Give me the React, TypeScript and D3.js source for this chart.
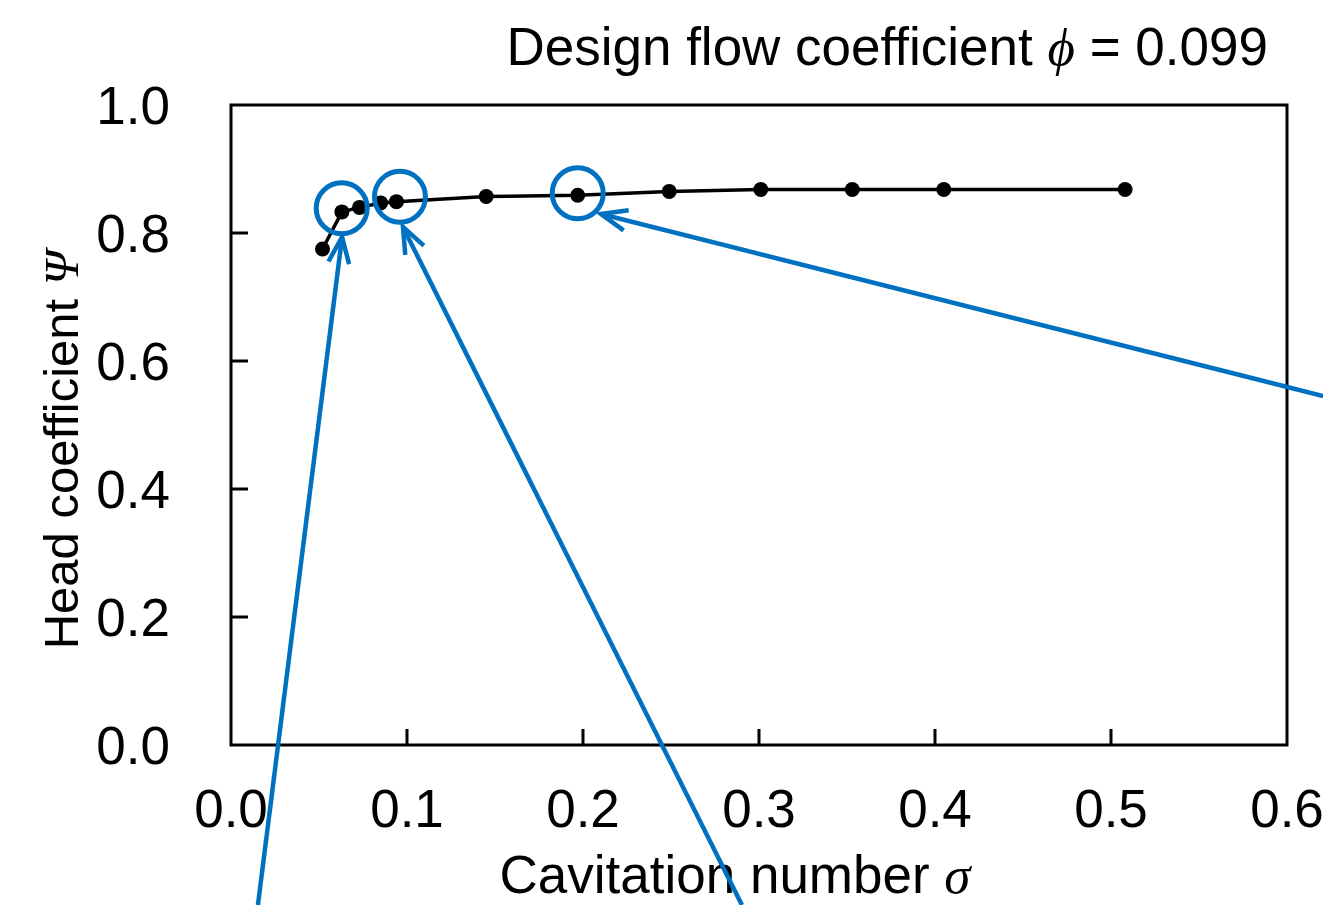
import React from "react";
import * as d3 from "d3";

const sigma = [0.052, 0.063, 0.073, 0.085, 0.094, 0.145, 0.197, 0.249, 0.301, 0.353, 0.405, 0.508];
const psi = [0.775, 0.833, 0.840, 0.847, 0.849, 0.857, 0.859, 0.865, 0.868, 0.868, 0.868, 0.868];
const xTicks = [0, 0.1, 0.2, 0.3, 0.4, 0.5, 0.6];
const yTicks = [0, 0.2, 0.4, 0.6, 0.8, 1.0];

// annotation circles (data units) and arrows: tail -> tip (data units)
const circleCenters = [
  { x: 0.0629, y: 0.8386 },
  { x: 0.096, y: 0.8567 },
  { x: 0.197, y: 0.862 },
];
const arrows = [
  { x0: 0.0153, y0: -0.25, x1: 0.0631, y1: 0.7938 },
  { x0: 0.2903, y0: -0.25, x1: 0.0977, y1: 0.8094 },
  { x0: 0.6205, y0: 0.5453, x1: 0.2102, y1: 0.8297 },
];

const W = 1323;
const H = 905;
const M = { left: 231, right: 1287, top: 105, bottom: 745 };
const BLUE = "#0070C0";
const SANS = "'Liberation Sans', Arial, sans-serif";
const SERIF = "'Liberation Serif', 'Times New Roman', serif";

export default function App() {
  const x = d3.scaleLinear().domain([0, 0.6]).range([M.left, M.right]);
  const y = d3.scaleLinear().domain([0, 1]).range([M.bottom, M.top]);
  const pts = sigma.map((s, i) => [s, psi[i]] as [number, number]);
  const line = d3.line<[number, number]>().x((d) => x(d[0])).y((d) => y(d[1]));
  const fs = 53;
  const tickLen = 16;

  const arrowHead = (a: typeof arrows[number]) => {
    const tx = x(a.x1), ty = y(a.y1);
    const sx = x(a.x0), sy = y(a.y0);
    const ang = Math.atan2(sy - ty, sx - tx);
    const L = 28, spread = 0.38;
    const p1 = [tx + L * Math.cos(ang + spread), ty + L * Math.sin(ang + spread)];
    const p2 = [tx + L * Math.cos(ang - spread), ty + L * Math.sin(ang - spread)];
    return `M${p1[0]},${p1[1]}L${tx},${ty}L${p2[0]},${p2[1]}`;
  };

  return (
    <svg
      width={W}
      height={H}
      style={{ position: "absolute", left: 0, top: 0, background: "#fff" }}
    >
      {/* title */}
      <text x={1268} y={65} textAnchor="end" fontFamily={SANS} fontSize={fs} fill="#000">
        Design flow coefficient{" "}
        <tspan fontFamily={SERIF} fontStyle="italic">ϕ</tspan> = 0.099
      </text>

      {/* frame */}
      <rect
        x={M.left}
        y={M.top}
        width={M.right - M.left}
        height={M.bottom - M.top}
        fill="none"
        stroke="#000"
        strokeWidth={3}
      />
      {/* ticks */}
      {xTicks.slice(1, -1).map((t) => (
        <line key={"xt" + t} x1={x(t)} x2={x(t)} y1={M.bottom} y2={M.bottom - tickLen} stroke="#000" strokeWidth={3} />
      ))}
      {yTicks.slice(1, -1).map((t) => (
        <line key={"yt" + t} x1={M.left} x2={M.left + tickLen + 1} y1={y(t)} y2={y(t)} stroke="#000" strokeWidth={3} />
      ))}
      {xTicks.map((t) => (
        <text key={"xl" + t} x={x(t)} y={827} textAnchor="middle" fontFamily={SANS} fontSize={fs} fill="#000">
          {t.toFixed(1)}
        </text>
      ))}
      {yTicks.map((t) => (
        <text key={"yl" + t} x={170} y={y(t) + fs * 0.36} textAnchor="end" fontFamily={SANS} fontSize={fs} fill="#000">
          {t.toFixed(1)}
        </text>
      ))}

      {/* axis titles */}
      <text x={735} y={893} textAnchor="middle" fontFamily={SANS} fontSize={fs} fill="#000">
        Cavitation number <tspan fontFamily={SERIF} fontStyle="italic">σ</tspan>
      </text>
      <text
        transform={`translate(78,450) rotate(-90)`}
        textAnchor="middle"
        fontFamily={SANS}
        fontSize={49}
        fill="#000"
      >
        Head coefficient <tspan fontFamily={SERIF} fontStyle="italic">Ψ</tspan>
      </text>

      {/* data */}
      <path d={line(pts) || ""} fill="none" stroke="#000" strokeWidth={3.5} />
      {pts.map((p, i) => (
        <circle key={"p" + i} cx={x(p[0])} cy={y(p[1])} r={7.5} fill="#000" />
      ))}

      {/* annotations */}
      {circleCenters.map((c, i) => (
        <circle key={"c" + i} cx={x(c.x)} cy={y(c.y)} r={25.5} fill="none" stroke={BLUE} strokeWidth={5} />
      ))}
      {arrows.map((a, i) => (
        <g key={"a" + i}>
          <line x1={x(a.x0)} y1={y(a.y0)} x2={x(a.x1)} y2={y(a.y1)} stroke={BLUE} strokeWidth={4.5} />
          <path d={arrowHead(a)} fill="none" stroke={BLUE} strokeWidth={4.5} />
        </g>
      ))}
    </svg>
  );
}
